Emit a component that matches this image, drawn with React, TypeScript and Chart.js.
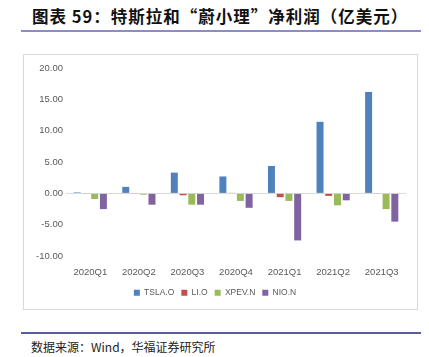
import React, { useEffect, useRef } from "react";
import { Chart, registerables } from "chart.js";

Chart.register(...registerables);

const categories = ["2020Q1", "2020Q2", "2020Q3", "2020Q4", "2021Q1", "2021Q2", "2021Q3"];
const tsla = [0.16, 1.04, 3.31, 2.7, 4.38, 11.42, 16.18];
const li = [-0.1, -0.1, -0.3, 0.1, -0.6, -0.4, -0.1];
const xpev = [-0.9, -0.2, -1.8, -1.2, -1.2, -1.9, -2.5];
const nio = [-2.5, -1.8, -1.8, -2.3, -7.5, -1.1, -4.5];
const seriesNames = ["TSLA.O", "LI.O", "XPEV.N", "NIO.N"];
const seriesColors = ["#4F81BD", "#C0504D", "#9BBB59", "#8064A2"];
const yMin = -10;
const yMax = 20;
const yStep = 5;

export default function App() {
  const ref = useRef<HTMLCanvasElement | null>(null);
  useEffect(() => {
    if (!ref.current) return;
    const data = [tsla, li, xpev, nio];
    const chart = new Chart(ref.current, {
      type: "bar",
      data: {
        labels: categories,
        datasets: seriesNames.map((n, i) => ({
          label: n,
          data: data[i],
          backgroundColor: seriesColors[i],
          borderColor: "rgba(255,255,255,0.6)",
          borderWidth: 0,
          categoryPercentage: 0.72,
          barPercentage: 0.8,
        })),
      },
      options: {
        animation: false,
        responsive: false,
        devicePixelRatio: 1,
        layout: { padding: { top: 13, right: 11, bottom: 2, left: 0 } },
        plugins: {
          legend: {
            position: "bottom",
            labels: {
              boxWidth: 6,
              boxHeight: 6,
              padding: 7,
              color: "#595959",
              font: { family: "Liberation Sans", size: 8.5 },
            },
          },
          tooltip: { enabled: false },
        },
        scales: {
          x: {
            grid: { display: false },
            border: { display: false },
            ticks: { color: "#595959", font: { family: "Liberation Sans", size: 9.5 }, padding: 3 },
          },
          y: {
            min: yMin,
            max: yMax,
            afterFit: (s: any) => { s.width = 42; },
            ticks: {
              stepSize: yStep,
              color: "#595959",
              font: { family: "Liberation Sans", size: 9.5 },
              callback: (v: any) => Number(v).toFixed(2),
            },
            border: { display: false },
            grid: {
              drawTicks: false,
              color: (ctx: any) => (ctx.tick && ctx.tick.value === 0 ? "#d9d9d9" : "rgba(0,0,0,0)"),
            },
          },
        },
      },
    });
    return () => chart.destroy();
  }, []);

  return (
    <div style={{ position: "fixed", left: 0, top: 0, width: 429, height: 357, background: "#fff", overflow: "hidden" }}>
      <div style={{ position: "absolute", left: 32, top: 6, fontFamily: "'Noto Sans CJK SC'", fontWeight: 700, fontSize: 16.5, letterSpacing: 1.0, color: "#111", whiteSpace: "nowrap", lineHeight: "20px" }}>
        图表 59：特斯拉和“蔚小理”净利润（亿美元）
      </div>
      <div style={{ position: "absolute", left: 21, top: 30, width: 400, height: 2, background: "#8c8cc8" }} />
      <div style={{ position: "absolute", left: 23, top: 54, width: 393, height: 254, border: "1px solid #d9d9d9" }}>
        <canvas ref={ref} width={393} height={254} style={{ display: "block" }} />
      </div>
      <div style={{ position: "absolute", left: 21, top: 332, width: 400, height: 1.5, background: "#5a5aa6" }} />
      <div style={{ position: "absolute", left: 31, top: 339, fontFamily: "'Noto Sans CJK SC'", fontSize: 12, color: "#222", whiteSpace: "nowrap", lineHeight: "16px" }}>
        数据来源：Wind，华福证券研究所
      </div>
    </div>
  );
}
